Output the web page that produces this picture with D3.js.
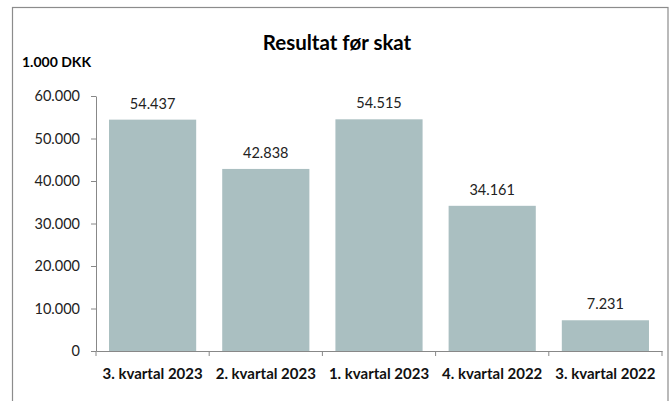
<!DOCTYPE html>
<html><head><meta charset="utf-8">
<script src="https://cdn.jsdelivr.net/npm/d3@7"></script>
<style>body{margin:0;background:#fff}svg{display:block}</style>
</head><body>
<svg id="c" width="672" height="401"></svg>
<script>
const categories = ["3. kvartal 2023","2. kvartal 2023","1. kvartal 2023","4. kvartal 2022","3. kvartal 2022"];
const values = [54437, 42838, 54515, 34161, 7231];
const valueLabels = ["54.437","42.838","54.515","34.161","7.231"];
const yTicks = [0,10000,20000,30000,40000,50000,60000];
const yTickLabels = ["0","10.000","20.000","30.000","40.000","50.000","60.000"];

const svg = d3.select("#c");
const font = "Lato, 'Open Sans', sans-serif";
svg.append("rect").attr("x",12.5).attr("y",7.5).attr("width",655.5).attr("height",420)
  .attr("fill","#fff").attr("stroke","#8c8c8c").attr("stroke-width",1.2);

const x = d3.scaleBand().domain(categories).range([96,662]).paddingInner(0.23).paddingOuter(0.115);
const y = d3.scaleLinear().domain([0,60000]).range([351,96]);

svg.append("text").attr("x",337).attr("y",50).attr("text-anchor","middle")
  .attr("font-family",font).attr("font-weight","bold").attr("font-size",20.5).text("Resultat før skat");
svg.append("text").attr("x",22).attr("y",67)
  .attr("font-family",font).attr("font-weight","bold").attr("font-size",14).text("1.000 DKK");

svg.selectAll("rect.bar").data(values).enter().append("rect").attr("class","bar")
  .attr("x",(d,i)=>x(categories[i])).attr("width",x.bandwidth())
  .attr("y",d=>y(d)).attr("height",d=>y(0)-y(d)).attr("fill","#aabfc1");

svg.selectAll("text.val").data(values).enter().append("text").attr("class","val")
  .attr("x",(d,i)=>x(categories[i])+x.bandwidth()/2).attr("y",d=>y(d)-11)
  .attr("text-anchor","middle").attr("font-family",font).attr("font-size",14.5).attr("fill","#222")
  .text((d,i)=>valueLabels[i]);

const ya = svg.append("g").attr("transform","translate(96,0)")
  .call(d3.axisLeft(y).tickValues(yTicks).tickFormat((d,i)=>yTickLabels[i]).tickSize(5).tickSizeOuter(0).tickPadding(11));
ya.selectAll("path,line").attr("stroke","#888");
ya.selectAll("text").attr("font-family",font).attr("font-size",14.5).attr("fill","#222");

const xa = svg.append("g").attr("transform","translate(0,351)")
  .call(d3.axisBottom(x).tickSize(0).tickSizeOuter(0).tickPadding(17));
xa.select("path").attr("stroke","#888");
xa.selectAll("text").attr("font-family",font).attr("font-weight","bold").attr("font-size",15).attr("fill","#111");
const bounds = [96].concat(categories.map(c=>x(c)+x.bandwidth()+x.step()*x.paddingInner()/2));
bounds[bounds.length-1]=662;
xa.selectAll("line.sep").data(bounds).enter().append("line").attr("class","sep")
  .attr("x1",d=>d).attr("x2",d=>d).attr("y1",0).attr("y2",5).attr("stroke","#888");
</script>
</body></html>
